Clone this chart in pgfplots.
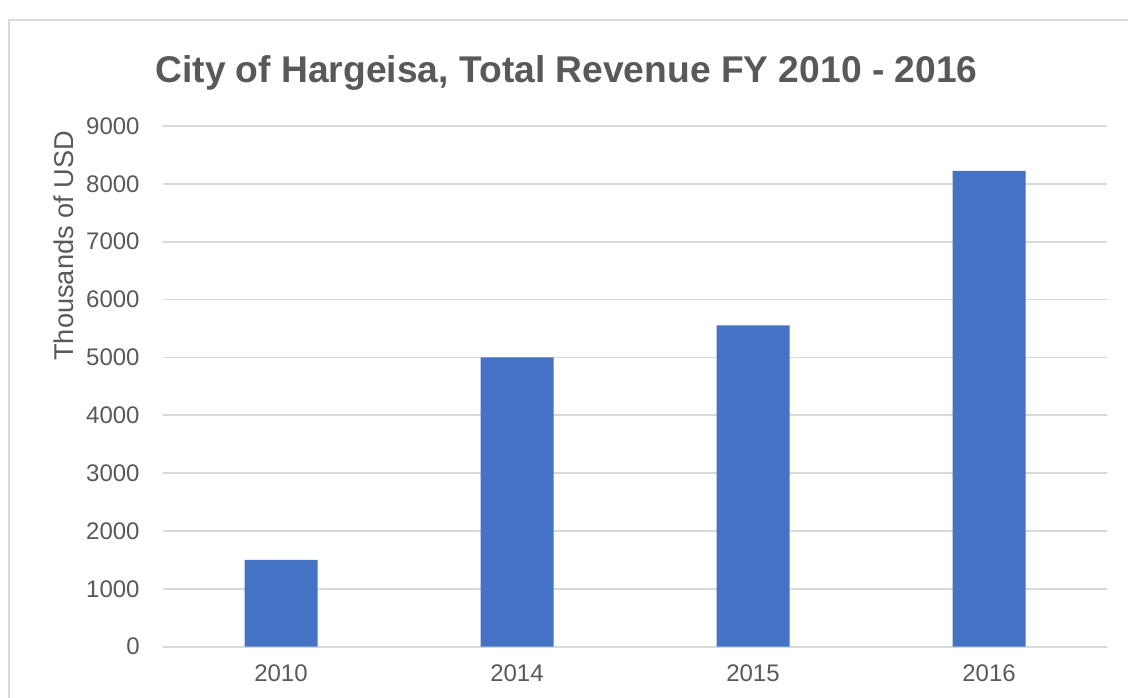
\documentclass[border=0pt]{standalone}
\usepackage{fontspec}
\setmainfont{Liberation Sans}
\usepackage{pgfplots}
\pgfplotsset{compat=1.18}
\definecolor{barblue}{HTML}{4472C4}
\definecolor{gridgray}{HTML}{D9D9D9}
\definecolor{txtgray}{HTML}{595959}
\begin{document}
\begin{tikzpicture}
\clip (-81.5pt,-25.15pt) rectangle (482.5pt,323.35pt);
\fill[white] (-81.5pt,-25.15pt) rectangle (482.5pt,323.35pt);
\draw[gridgray, line width=0.9pt] (-76.9pt,-60pt) rectangle (520pt,313.3pt);
\begin{axis}[
  at={(0,0)}, anchor=south west,
  scale only axis,
  width=472pt, height=260.35pt,
  xmin=-0.5, xmax=3.5,
  ymin=0, ymax=9000,
  ytick={0,1000,...,9000},
  xtick={0,1,2,3},
  xticklabels={2010,2014,2015,2016},
  major tick length=0pt,
  axis line style={draw=none},
  ymajorgrids,
  major grid style={gridgray, line width=0.8pt},
  /pgf/number format/assume math mode=true,
  scaled y ticks=false,
  yticklabel={\pgfmathprintnumber[fixed,1000 sep={}]{\tick}},
  ticklabel style={font=\fontsize{12}{14}\selectfont, text=txtgray},
  yticklabel style={anchor=east, inner sep=0pt, xshift=-11.5pt},
  xticklabel style={anchor=north, inner sep=0pt, yshift=-9pt},
  ylabel={Thousands of USD},
  every axis y label/.style={at={(rel axis cs:0,0.77)}, xshift=-49.75pt, rotate=90, anchor=center, font=\fontsize{13.6}{16}\selectfont, text=txtgray},
  clip=false,
]
\addplot[ybar, bar width=36.5pt, fill=barblue, draw=none] coordinates {(0,1500) (1,5000) (2,5555) (3,8225)};
\end{axis}
\node[anchor=base, font=\bfseries\fontsize{18.6}{22}\selectfont, text=txtgray] at (201.75pt,282.2pt) {City of Hargeisa, Total Revenue FY 2010 - 2016};
\end{tikzpicture}
\end{document}
